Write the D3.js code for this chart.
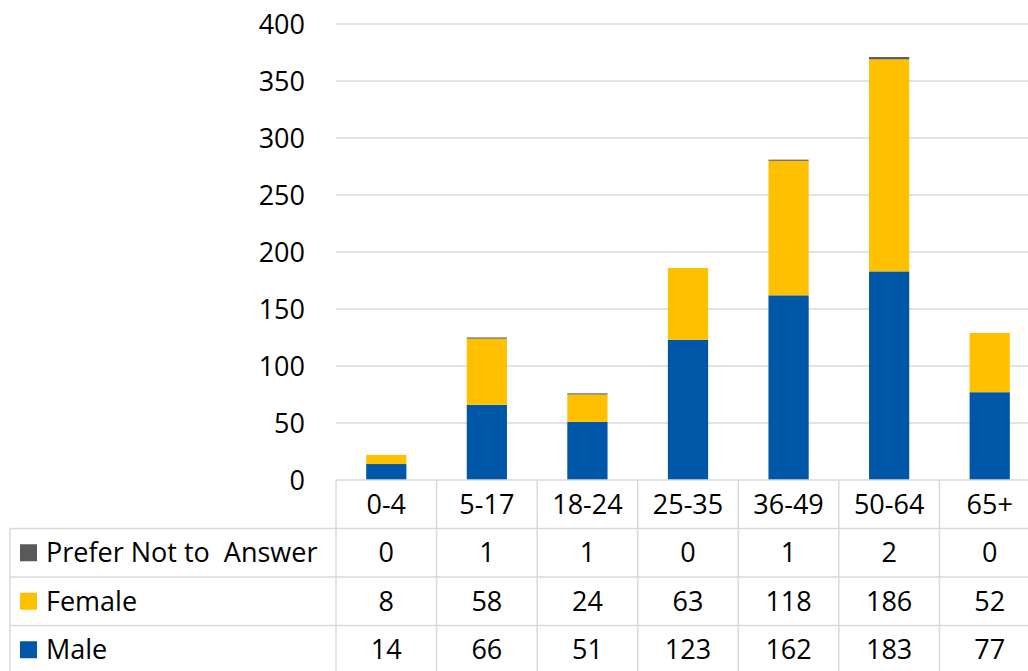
<!DOCTYPE html>
<html><head><meta charset="utf-8">
<script src="https://cdn.jsdelivr.net/npm/d3@7"></script>
<style>body{margin:0;background:#fff;overflow:hidden}svg{display:block}</style>
</head><body><svg id="c" width="1028" height="671"></svg>
<script>
const categories = ["0-4","5-17","18-24","25-35","36-49","50-64","65+"];
const male = [14,66,51,123,162,183,77];
const female = [8,58,24,63,118,186,52];
const preferNot = [0,1,1,0,1,2,0];
const seriesNames = ["Male","Female","Prefer Not to  Answer"];
const seriesColors = ["#0057A8","#FFC000","#595959"];
const yTicks = [0,50,100,150,200,250,300,350,400];

(function(){
const svg = d3.select("#c");
const font = "'Open Sans', sans-serif";
const fs = 27;
const pLeft = 336, pRight = 1040, pTop = 24, pBottom = 480;
const x = d3.scaleBand().domain(categories).range([pLeft, pRight]).paddingInner(0.6).paddingOuter(0.3);
const y = d3.scaleLinear().domain([0,400]).range([pBottom, pTop]);
const step = x.step();

svg.append("g").selectAll("line").data(yTicks.filter(d=>d>0)).join("line")
  .attr("x1", pLeft).attr("x2", 1028).attr("y1", d=>y(d)).attr("y2", d=>y(d))
  .attr("stroke", "#D9D9D9").attr("stroke-width", 1.5);

svg.append("g").selectAll("text").data(yTicks).join("text")
  .attr("x", 305).attr("y", d=>y(d)).attr("dy", "0.36em").attr("text-anchor","end")
  .attr("font-family", font).attr("font-size", fs).attr("fill","#000").text(d=>d);

const rows = categories.map((c,i)=>({cat:c, Male:male[i], Female:female[i], "Prefer Not to  Answer":preferNot[i]}));
const stack = d3.stack().keys(seriesNames)(rows);
svg.append("g").selectAll("g").data(stack).join("g").attr("fill",(d,i)=>seriesColors[i])
  .selectAll("rect").data(d=>d).join("rect")
  .attr("x", d=>x(d.data.cat)).attr("width", x.bandwidth())
  .attr("y", d=>y(d[1])).attr("height", d=>Math.max(0, y(d[0])-y(d[1])));

const tableLeft = 10, rowH = 48.5;
const rowY = [pBottom, pBottom+rowH, pBottom+2*rowH, pBottom+3*rowH, pBottom+4*rowH];
const grid = svg.append("g").attr("stroke","#D9D9D9").attr("stroke-width",1.5);
grid.append("line").attr("x1", pLeft).attr("x2", 1028).attr("y1", rowY[0]).attr("y2", rowY[0]);
for (let r=1;r<4;r++) grid.append("line").attr("x1", tableLeft).attr("x2", 1028).attr("y1", rowY[r]).attr("y2", rowY[r]);
grid.append("line").attr("x1", tableLeft).attr("x2", tableLeft).attr("y1", rowY[1]).attr("y2", 680);
for (let i=0;i<=categories.length;i++){
  const xx = pLeft + i*step;
  grid.append("line").attr("x1", xx).attr("x2", xx).attr("y1", rowY[0]).attr("y2", 680);
}
svg.append("g").selectAll("text").data(categories).join("text")
  .attr("x", d=>x(d)+x.bandwidth()/2).attr("y", (rowY[0]+rowY[1])/2).attr("dy","0.36em")
  .attr("text-anchor","middle").attr("font-family", font).attr("font-size", fs).text(d=>d);

const tableRows = [
  {name:"Prefer Not to  Answer", color:seriesColors[2], vals:preferNot},
  {name:"Female", color:seriesColors[1], vals:female},
  {name:"Male", color:seriesColors[0], vals:male}
];
tableRows.forEach((tr, r)=>{
  const cy = (rowY[r+1]+rowY[r+2])/2;
  svg.append("rect").attr("x", 20).attr("y", cy-8.5).attr("width", 17).attr("height", 17).attr("fill", tr.color);
  svg.append("text").attr("x", 46).attr("y", cy).attr("dy","0.36em").attr("font-family", font)
    .attr("font-size", fs).style("white-space","pre").text(tr.name);
  svg.append("g").selectAll("text").data(tr.vals).join("text")
    .attr("x", (d,i)=>x(categories[i])+x.bandwidth()/2).attr("y", cy).attr("dy","0.36em")
    .attr("text-anchor","middle").attr("font-family", font).attr("font-size", fs).text(d=>d);
});
})();
</script></body></html>
